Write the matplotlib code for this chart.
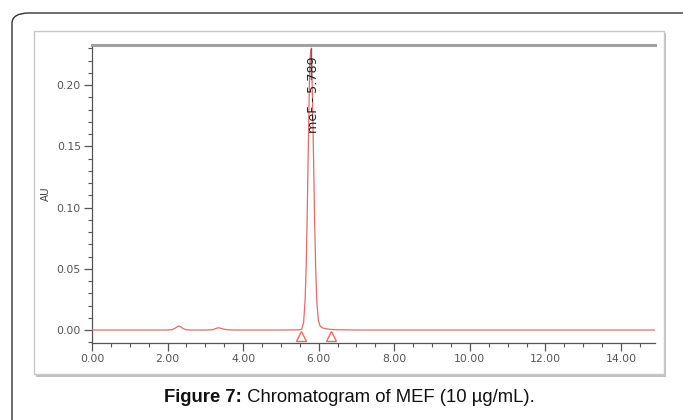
import matplotlib
matplotlib.use("Agg")
import matplotlib.pyplot as plt
from matplotlib.patches import Rectangle, FancyBboxPatch
from matplotlib.ticker import MultipleLocator, FormatStrFormatter

# ---- data ----
time_min = [0.00, 0.50, 1.00, 1.50, 2.00, 2.12, 2.20, 2.26, 2.30, 2.34, 2.40, 2.48,
            2.60, 3.00, 3.20, 3.28, 3.34, 3.40, 3.48, 3.58, 3.80, 4.50, 5.00, 5.40,
            5.50, 5.55, 5.60, 5.64, 5.67, 5.69, 5.72, 5.75, 5.77, 5.789, 5.81, 5.83,
            5.86, 5.89, 5.92, 5.95, 5.99, 6.04, 6.12, 6.25, 6.40, 7.00, 8.00, 10.00,
            12.00, 14.00, 14.90]
au = [0.0, 0.0, 0.0, 0.0, 0.0, 0.0003, 0.0015, 0.0028, 0.0032, 0.0028, 0.0014, 0.0003,
      0.0, 0.0, 0.0003, 0.0013, 0.0018, 0.0015, 0.0008, 0.0002, 0.0, 0.0, 0.0, 0.0001,
      0.0002, 0.0007, 0.006, 0.024, 0.054, 0.084, 0.141, 0.196, 0.221, 0.229, 0.220, 0.197,
      0.146, 0.092, 0.050, 0.023, 0.008, 0.003, 0.0015, 0.0007, 0.0003, 0.0, 0.0, 0.0,
      0.0, 0.0, 0.0]
peak_rt = 5.789
peak_name = "meF"
peak_height = 0.229
integration_marks_t = [5.52, 6.33]
integration_marks_au = [-0.0048, -0.0048]
x_ticks = [0, 2, 4, 6, 8, 10, 12, 14]
y_ticks = [0.00, 0.05, 0.10, 0.15, 0.20]

W, H = 683, 420
fig = plt.figure(figsize=(W / 100, H / 100), dpi=100)
fig.patch.set_facecolor("white")

# outer rounded frame
outer = FancyBboxPatch((12 / W, 1 - 520 / H), 700 / W, (520 - 13) / H,
                       boxstyle="round,pad=0,rounding_size=0.025",
                       transform=fig.transFigure, facecolor="white",
                       edgecolor="#333333", linewidth=1.0, zorder=0)
fig.patches.append(outer)

# inner panel with shadow
shadow = Rectangle((36 / W, 1 - 377 / H), 630 / W, 344 / H, transform=fig.transFigure,
                   facecolor="#c0c0c0", edgecolor="none", zorder=1)
panel = Rectangle((34 / W, 1 - 374 / H), 630 / W, 343 / H, transform=fig.transFigure,
                  facecolor="white", edgecolor="#c8c8c8", linewidth=1.0, zorder=2)
fig.patches.append(shadow)
fig.patches.append(panel)

ax = fig.add_axes([92 / W, 1 - 343 / H, 563 / W, 298 / H], zorder=3)
ax.set_facecolor("none")

ax.plot(time_min, au, color="#e86a6a", linewidth=0.9, zorder=3)
ax.plot(integration_marks_t, integration_marks_au, linestyle="none", marker="^",
        markersize=7, markerfacecolor="none", markeredgecolor="#e86a6a",
        markeredgewidth=1.0, zorder=4)
ax.plot([peak_rt, peak_rt], [0.205, peak_height + 0.001], color="#666666",
        linewidth=1.0, zorder=4)
ax.text(peak_rt + 0.06, 0.2235, f"{peak_name} - {peak_rt:.3f}", rotation=90,
        ha="center", va="top", fontsize=9.2, color="#222222", zorder=5)

ax.set_xlim(0, 14.90)
ax.set_ylim(-0.0106, 0.2327)
ax.set_xticks(x_ticks)
ax.set_yticks(y_ticks)
ax.xaxis.set_minor_locator(MultipleLocator(0.5))
ax.yaxis.set_minor_locator(MultipleLocator(0.01))
ax.xaxis.set_major_formatter(FormatStrFormatter("%.2f"))
ax.yaxis.set_major_formatter(FormatStrFormatter("%.2f"))
ax.tick_params(axis="both", which="major", length=6, width=0.9, color="#555555",
               labelsize=7.8, labelcolor="#555555", direction="out", pad=2)
ax.tick_params(axis="both", which="minor", length=3, width=0.8, color="#555555",
               direction="out")

ax.spines["right"].set_visible(False)
ax.spines["left"].set_color("#555555")
ax.spines["bottom"].set_color("#555555")
ax.spines["left"].set_linewidth(0.9)
ax.spines["bottom"].set_linewidth(0.9)
ax.spines["top"].set_color("#a0a0a0")
ax.spines["top"].set_linewidth(2.2)

ax.set_ylabel("AU", fontsize=7.5, color="#444444", labelpad=4)

# caption: bold part followed by regular part, centred together
fig.canvas.draw()
r = fig.canvas.get_renderer()
cap_y = 1 - 397 / H
t1 = fig.text(0, cap_y, "Figure 7:", fontsize=13.3, fontweight="bold",
              family="Liberation Sans", va="center", color="#111111")
t2 = fig.text(0, cap_y, " Chromatogram of MEF (10 µg/mL).", fontsize=13.3,
              family="Liberation Sans", va="center", color="#111111")
w1 = t1.get_window_extent(r).width / W
w2 = t2.get_window_extent(r).width / W
x0 = 349 / W - (w1 + w2) / 2
t1.set_x(x0)
t2.set_x(x0 + w1)

fig.savefig("out.png", dpi=100, facecolor="white")
